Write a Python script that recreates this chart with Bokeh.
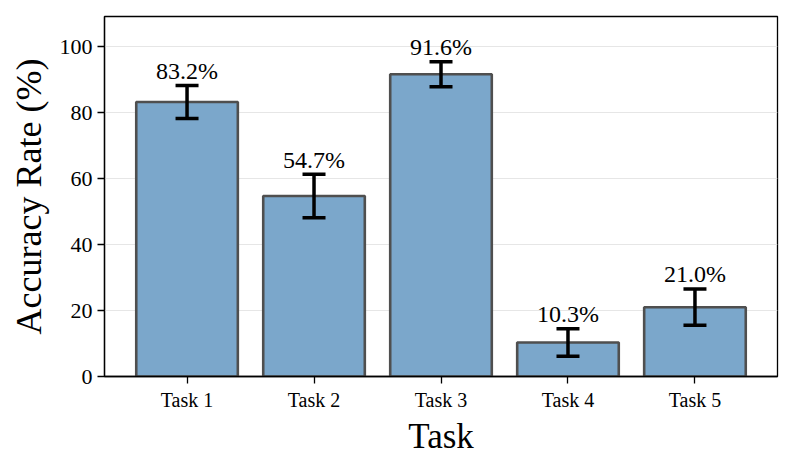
from bokeh.plotting import figure
from bokeh.models import ColumnDataSource, FixedTicker, Range1d, Whisker, TeeHead
from bokeh.core.properties import value
from bokeh.embed import file_html
from bokeh.resources import INLINE

tasks = ["Task 1", "Task 2", "Task 3", "Task 4", "Task 5"]
accuracy = [83.2, 54.7, 91.6, 10.3, 21.0]
errors = [5.0, 6.6, 3.8, 4.2, 5.5]
y_ticks = [0, 20, 40, 60, 80, 100]

xs = list(range(len(tasks)))
src = ColumnDataSource(dict(
    x=xs,
    acc=accuracy,
    lower=[a - e for a, e in zip(accuracy, errors)],
    upper=[a + e for a, e in zip(accuracy, errors)],
    label_y=[a + e + 0.5 for a, e in zip(accuracy, errors)],
    label=[f"{a:.1f}%" for a in accuracy],
))

FONT = "Liberation Serif"

p = figure(width=784, height=458, output_backend="svg", toolbar_location=None,
           x_range=Range1d(-0.65, 4.65), y_range=Range1d(0, 109.1),
           min_border_left=104, min_border_right=7, min_border_top=16, min_border_bottom=82)

p.vbar(x="x", top="acc", bottom=0, width=0.8, source=src,
       fill_color="#7BA7CB", line_color="#4f4f4f", line_width=2.6)

w = Whisker(base="x", upper="upper", lower="lower", source=src, level="overlay",
            line_color="black", line_width=3.5,
            upper_head=TeeHead(size=23, line_color="black", line_width=3.5),
            lower_head=TeeHead(size=23, line_color="black", line_width=3.5))
p.add_layout(w)

p.text(x="x", y="label_y", text="label", source=src, text_align="center",
       text_baseline="bottom", text_font=value(FONT), text_font_size="24px",
       text_color="black")

p.xaxis.ticker = FixedTicker(ticks=xs)
p.xaxis.major_label_overrides = {i: t for i, t in enumerate(tasks)}
p.yaxis.ticker = FixedTicker(ticks=y_ticks)

p.xgrid.grid_line_color = None
p.ygrid.ticker = FixedTicker(ticks=y_ticks)
p.ygrid.grid_line_color = "#e6e6e6"
p.ygrid.grid_line_width = 1.2

for ax in (p.xaxis, p.yaxis):
    ax.axis_line_color = "black"
    ax.axis_line_width = 1.3
    ax.major_tick_line_color = "black"
    ax.major_tick_line_width = 1.3
    ax.major_tick_out = 7
    ax.major_tick_in = 0
    ax.minor_tick_line_color = None
    ax.major_label_text_font = FONT
    ax.major_label_text_font_size = "22px"
    ax.major_label_text_color = "black"
    ax.major_label_standoff = 5
    ax.axis_label_text_font = FONT
    ax.axis_label_text_font_size = "35px"
    ax.axis_label_text_font_style = "normal"
    ax.axis_label_text_color = "black"

p.xaxis.major_label_text_font_size = "20px"
p.yaxis.axis_label_text_font_size = "36px"
p.xaxis.axis_label = "Task"
p.yaxis.axis_label = "Accuracy Rate (%)"
p.xaxis.axis_label_standoff = 3
p.yaxis.axis_label_standoff = 8

p.outline_line_color = "black"
p.outline_line_width = 1.3
p.outline_line_alpha = 1.0
p.background_fill_color = "white"
p.border_fill_color = "white"

open("out.html", "w").write(file_html(p, INLINE))
